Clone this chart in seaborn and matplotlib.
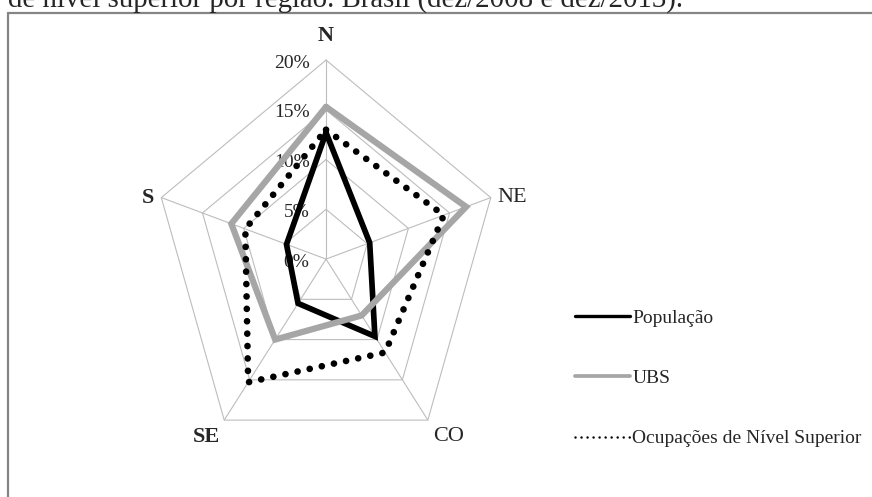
import numpy as np
import pandas as pd
import matplotlib
matplotlib.use("Agg")
import matplotlib.pyplot as plt
from matplotlib.lines import Line2D
import seaborn as sns

# ========== Data ========== #
categories = ["N", "NE", "CO", "SE", "S"]
populacao = [12.7, 5.3, 9.6, 5.5, 4.8]
ubs = [15.3, 17.0, 7.0, 10.0, 11.5]
ocupacoes = [13.0, 14.3, 11.6, 15.3, 9.8]
grid_levels = [5, 10, 15, 20]
tick_labels = ["0%", "5%", "10%", "15%", "20%"]
series_names = ["População", "UBS", "Ocupações de Nível Superior"]

sns.set_theme(style="white")
plt.rcParams["font.family"] = ["Liberation Serif", "DejaVu Serif"]

angles = np.deg2rad(np.arange(len(categories)) * 360 / len(categories))


def to_xy(values):
    # radar coordinates: angle measured clockwise from north
    r = np.append(values, values[0])
    a = np.append(angles, angles[0])
    return r * np.sin(a), r * np.cos(a)


fig = plt.figure(figsize=(8.72, 4.97), dpi=100)
ax = fig.add_axes([0.1554, 0.0382, 0.437, 0.881])
ax.set_xlim(-22, 22)
ax.set_ylim(-22, 22)
ax.set_axis_off()

# ========== Grid pentagons and spokes ========== #
grid_color = "#bdbdbd"
for lvl in grid_levels:
    gx, gy = to_xy([lvl] * len(categories))
    ax.plot(gx, gy, color=grid_color, lw=0.8, zorder=1)
for a in angles:
    ax.plot([0, 20 * np.sin(a)], [0, 20 * np.cos(a)], color=grid_color, lw=0.8, zorder=1)

# tick labels on the north spoke
for i, lab in enumerate(tick_labels):
    ax.text(-1.9, i * 5 - 0.3, lab, ha="right", va="center", fontsize=14, zorder=2)

# category labels
label_cfg = {
    "N": dict(offset=(0, 10), ha="center", va="bottom", weight="bold"),
    "NE": dict(offset=(5, 0), ha="left", va="center", weight="normal"),
    "CO": dict(offset=(4, -12), ha="left", va="center", weight="normal"),
    "SE": dict(offset=(-3, -12), ha="right", va="center", weight="bold"),
    "S": dict(offset=(-5, 0), ha="right", va="center", weight="bold"),
}
for cat, a in zip(categories, angles):
    cfg = label_cfg[cat]
    ax.annotate(cat, (20 * np.sin(a), 20 * np.cos(a)), xytext=cfg["offset"],
                textcoords="offset points", ha=cfg["ha"], va=cfg["va"],
                fontsize=16, fontweight=cfg["weight"], annotation_clip=False)

# ========== Series ========== #
styles = [
    dict(color="black", lw=4.1, linestyle="-", solid_joinstyle="miter"),
    dict(color="#a6a6a6", lw=4.5, linestyle="-", solid_joinstyle="miter"),
    dict(color="black", lw=4.8, linestyle=(0, (0.01, 1.85)), dash_capstyle="round"),
]
for name, vals, st in zip(series_names, [populacao, ubs, ocupacoes], styles):
    sx, sy = to_xy(vals)
    df = pd.DataFrame({"x": sx, "y": sy})
    sns.lineplot(data=df, x="x", y="y", sort=False, estimator=None, ax=ax,
                 zorder=3, clip_on=False, **st)

# ========== Legend ========== #
handles = [
    Line2D([], [], color="black", lw=2.4),
    Line2D([], [], color="#a6a6a6", lw=2.7),
    Line2D([], [], color="black", lw=1.8, linestyle=(0, (0.01, 2.4)), dash_capstyle="round"),
]
fig.legend(handles, series_names, loc="upper left", bbox_to_anchor=(575 / 872, 1 - 309 / 497),
           frameon=False, fontsize=14, handlelength=2.85, handletextpad=0.1,
           labelspacing=2.2, borderpad=0, borderaxespad=0)

# ========== Page frame and cut-off caption ========== #
fig.add_artist(Line2D([8 / 872, 1], [1 - 13 / 497] * 2, color="#858585", lw=1.6,
                      transform=fig.transFigure))
fig.add_artist(Line2D([8 / 872] * 2, [0, 1 - 13 / 497], color="#858585", lw=1.6,
                      transform=fig.transFigure))
fig.text(8 / 872, 1 - 7 / 497, "de nível superior por região. Brasil (dez/2008 e dez/2013).",
         ha="left", va="baseline", fontsize=20.8)

fig.savefig("out.png", dpi=100)
